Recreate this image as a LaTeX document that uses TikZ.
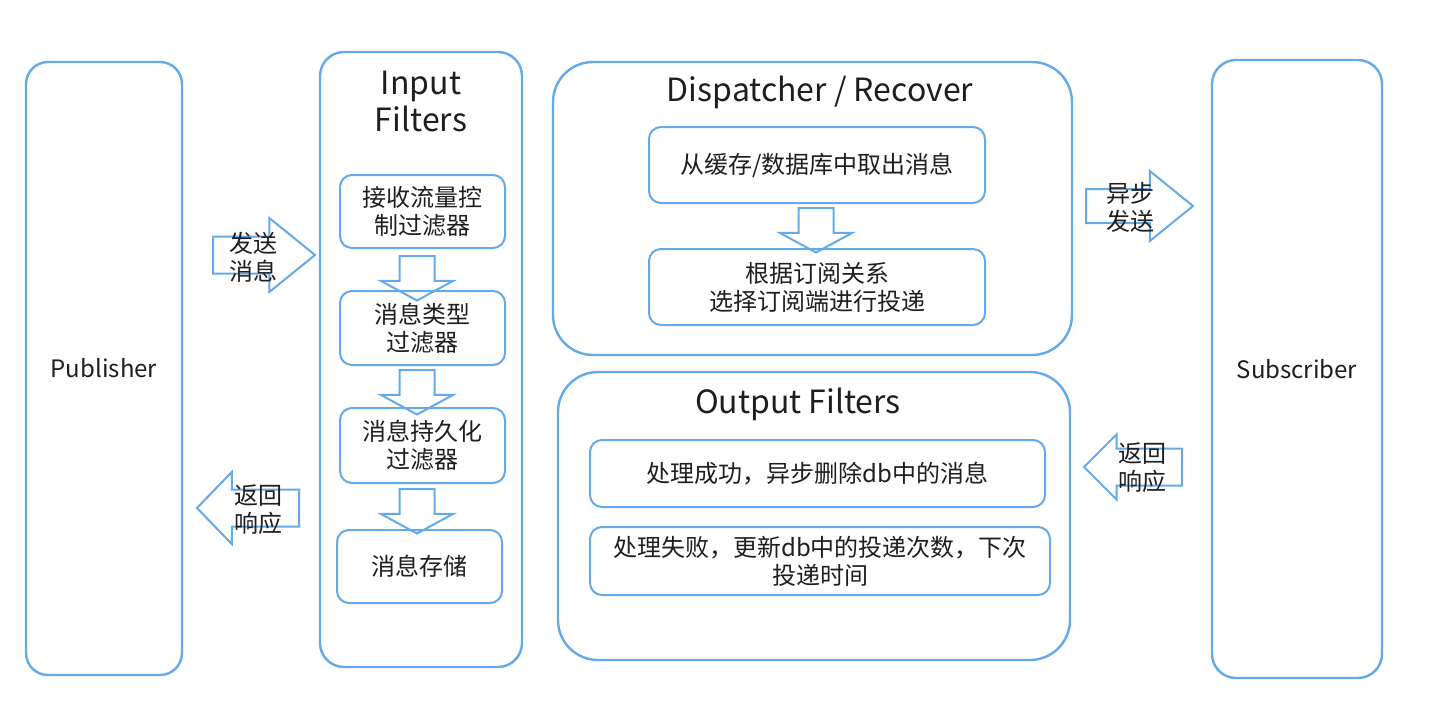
\documentclass[tikz,border=0pt]{standalone}
\usepackage{fontspec}
\setmainfont{Noto Sans CJK SC}
\usetikzlibrary{shapes.arrows}

\definecolor{flow}{RGB}{100,170,232}
\definecolor{ink}{RGB}{30,30,30}
\newcommand{\txt}{\fontsize{24}{28}\selectfont}
\newcommand{\ttl}{\fontsize{32}{37}\selectfont}

\tikzset{
  outer/.style={draw=flow, line width=2.4pt, inner sep=0pt},
  inner/.style={draw=flow, line width=2pt, rounded corners=12pt, inner sep=0pt,
    align=center, font=\txt},
  blk/.style n args={4}{single arrow, draw=flow, line width=2pt, inner sep=#1,
    single arrow head extend=#2, minimum height=#3, single arrow tip angle=#4,
    anchor=tail},
  lbl/.style={align=center, font=\txt, inner sep=0pt},
  head/.style={align=center, font=\ttl, inner sep=0pt}
}

\begin{document}
\begin{tikzpicture}[x=1pt, y=-1pt, text=ink]
  \useasboundingbox (0,0) rectangle (1440,712);

  % publisher and subscriber
  \node[outer, rounded corners=22pt, minimum width=156pt, minimum height=613pt,
        font=\txt] (pub) at (104,368.5) {Publisher};
  \node[outer, rounded corners=24pt, minimum width=170pt, minimum height=618pt,
        font=\txt] (sub) at (1297,369) {Subscriber};

  % input filters
  \node[outer, rounded corners=24pt, minimum width=202pt, minimum height=615pt]
        (infilt) at (421,359.5) {};
  \node[head] (intitle) at (421,101) {Input\\Filters};
  \node[inner, minimum width=165pt, minimum height=73pt] (rcv)     at (422.5,211.5) {接收流量控\\制过滤器};
  \node[inner, minimum width=165pt, minimum height=74pt] (typ)     at (422.5,328)   {消息类型\\过滤器};
  \node[inner, minimum width=165pt, minimum height=75pt] (persist) at (422.5,445.5) {消息持久化\\过滤器};
  \node[inner, minimum width=165pt, minimum height=73pt] (store)   at (419.5,566.5) {消息存储};

  \node[blk={16.5pt}{18.5pt}{37pt}{123}, shape border rotate=270] (dn1) at (417,255) {};
  \node[blk={16.5pt}{18.5pt}{38pt}{123}, shape border rotate=270] (dn2) at (417,369) {};
  \node[blk={16.5pt}{18.5pt}{37pt}{123}, shape border rotate=270] (dn3) at (417,488) {};

  % dispatcher / recover
  \node[outer, rounded corners=40pt, minimum width=519pt, minimum height=293pt]
        (disp) at (812.5,208.5) {};
  \node[head] (disptitle) at (820,92) {Dispatcher / Recover};
  \node[inner, minimum width=336pt, minimum height=76pt] (fetch) at (817,165) {从缓存/数据库中取出消息};
  \node[inner, minimum width=336pt, minimum height=76pt] (route) at (817,287) {根据订阅关系\\选择订阅端进行投递};
  \node[blk={16.5pt}{18.5pt}{36pt}{123}, shape border rotate=270] (dn4) at (816,207) {};

  % output filters
  \node[outer, rounded corners=40pt, minimum width=512pt, minimum height=288pt]
        (outfilt) at (814,516) {};
  \node[head] (outtitle) at (798,404) {Output Filters};
  \node[inner, minimum width=455pt, minimum height=67pt] (okbox)   at (817.5,473.5) {处理成功，异步删除db中的消息};
  \node[inner, minimum width=460pt, minimum height=68pt] (failbox) at (820,561) {处理失败，更新db中的投递次数，下次\\投递时间};

  % block arrows between the columns
  \node[blk={17.5pt}{18.5pt}{102pt}{78}] (send) at (212,255) {};
  \node[lbl] (sendtxt) at (253,257) {发送\\消息};
  \node[blk={17.5pt}{17.5pt}{102pt}{92}, shape border rotate=180] (reply) at (300,508) {};
  \node[lbl] (replytxt) at (258,510) {返回\\响应};
  \node[blk={16pt}{18pt}{107pt}{78}] (async) at (1085,206) {};
  \node[lbl] (asynctxt) at (1130,207) {异步\\发送};
  \node[blk={17.5pt}{14pt}{98pt}{90}, shape border rotate=180] (ack) at (1183,467) {};
  \node[lbl] (acktxt) at (1142,468) {返回\\响应};
\end{tikzpicture}
\end{document}
